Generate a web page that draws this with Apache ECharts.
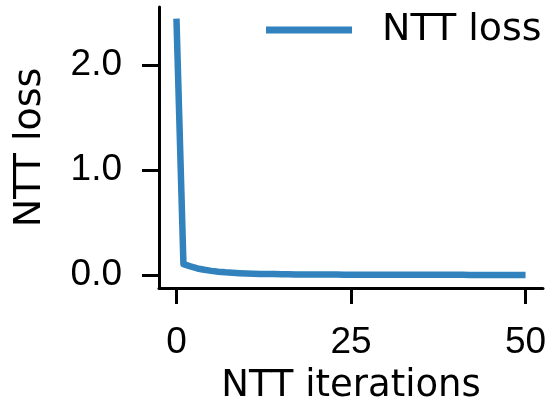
<!DOCTYPE html>
<html>
<head>
<meta charset="utf-8">
<script src="https://cdn.jsdelivr.net/npm/echarts@6/dist/echarts.min.js"></script>
<style>html,body{margin:0;padding:0;background:#fff}#c{width:550px;height:410px}</style>
</head>
<body>
<div id="c"></div>
<script>
var iterations = [];
for (var i = 0; i <= 50; i++) iterations.push(i);
var lossValues = [2.44, 0.105, 0.083, 0.064, 0.051, 0.041, 0.033, 0.027, 0.023, 0.019,
  0.016, 0.014, 0.012, 0.011, 0.010, 0.009, 0.008, 0.0075, 0.007, 0.0065,
  0.006, 0.0058, 0.0055, 0.0053, 0.005, 0.0048, 0.0046, 0.0044, 0.0042, 0.004,
  0.0039, 0.0038, 0.0037, 0.0036, 0.0035, 0.0034, 0.0033, 0.0032, 0.0031, 0.003,
  0.003, 0.0029, 0.0028, 0.0028, 0.0027, 0.0027, 0.0026, 0.0026, 0.0025, 0.0025, 0.0024];
var xTicks = [0, 25, 50];
var yTicks = [0, 1, 2];
var seriesName = 'NTT loss';
var xName = 'NTT iterations';
var yName = 'NTT loss';

var pts = iterations.map(function (x, k) { return [x, lossValues[k]]; });
var font = 'Liberation Sans';
var font2 = 'DejaVu Sans';
var chart = echarts.init(document.getElementById('c'));
chart.setOption({
  animation: false,
  grid: { left: 159, right: 7, top: 7, bottom: 121, containLabel: false },
  legend: {
    data: [{ name: seriesName, icon: 'rect' }],
    left: 266, top: 11, padding: 0,
    itemWidth: 86, itemHeight: 7,
    textStyle: { fontFamily: font2, fontSize: 38, color: '#000', padding: [0, 0, 0, 25] }
  },
  xAxis: {
    type: 'value', min: -2.5, max: 52.5,
    name: xName, nameLocation: 'middle', nameGap: 80,
    nameTextStyle: { fontFamily: font2, fontSize: 37, color: '#000' },
    axisLine: { onZero: false, lineStyle: { color: '#000', width: 3 } },
    axisTick: { show: true, length: 16, customValues: xTicks, lineStyle: { color: '#000', width: 3 } },
    axisLabel: { customValues: xTicks, margin: 36, fontFamily: font, fontSize: 37, color: '#000' },
    splitLine: { show: false }
  },
  yAxis: {
    type: 'value', min: -0.122, max: 2.55,
    name: yName, nameLocation: 'middle', nameGap: 110,
    nameTextStyle: { fontFamily: font2, fontSize: 38, color: '#000' },
    axisLine: { show: true, onZero: false, lineStyle: { color: '#000', width: 3 } },
    axisTick: { show: true, length: 17, customValues: yTicks, lineStyle: { color: '#000', width: 3 } },
    axisLabel: { customValues: yTicks, margin: 37, fontFamily: font, fontSize: 37, color: '#000',
      formatter: function (v) { return v.toFixed(1); } },
    splitLine: { show: false }
  },
  series: [{
    name: seriesName, type: 'line', data: pts, showSymbol: false, symbol: 'none',
    lineStyle: { color: '#3182bd', width: 6.5, cap: 'butt', join: 'round' },
    itemStyle: { color: '#3182bd' }
  }]
});
</script>
</body>
</html>
